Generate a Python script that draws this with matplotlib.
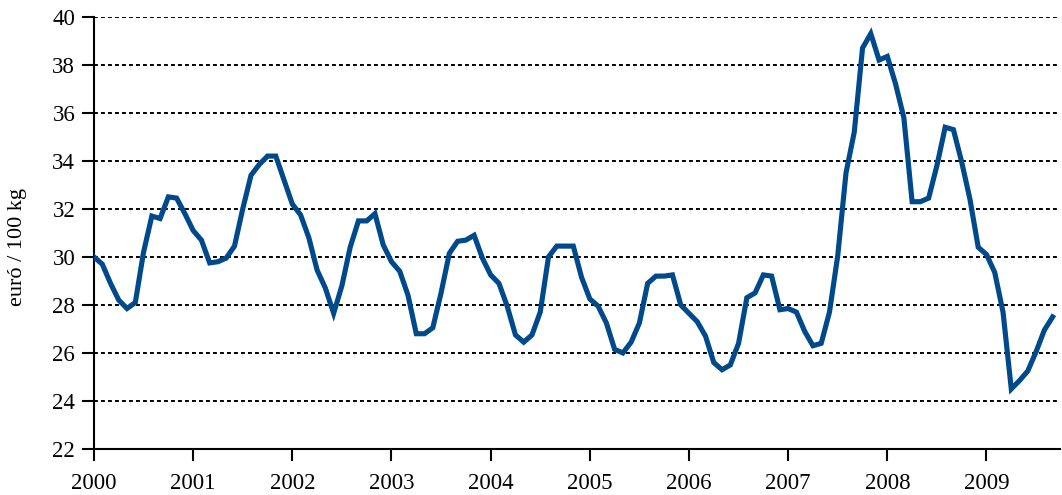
import numpy as np
import matplotlib
matplotlib.use("Agg")
import matplotlib.pyplot as plt

# havi átlagár, 2000 január - 2009 szeptember
ev_kezdet = 2000
arak = [
    # 2000
    30.0, 29.7, 28.9, 28.2, 27.85, 28.1, 30.2, 31.7, 31.6, 32.5, 32.45, 31.8,
    # 2001
    31.1, 30.7, 29.75, 29.8, 29.95, 30.45, 32.0, 33.4, 33.85, 34.2, 34.2, 33.2,
    # 2002
    32.2, 31.75, 30.8, 29.45, 28.7, 27.65, 28.8, 30.4, 31.5, 31.5, 31.8, 30.5,
    # 2003
    29.8, 29.4, 28.4, 26.8, 26.8, 27.05, 28.5, 30.15, 30.65, 30.7, 30.9, 29.95,
    # 2004
    29.25, 28.9, 27.95, 26.75, 26.45, 26.75, 27.7, 30.0, 30.45, 30.45, 30.45, 29.15,
    # 2005
    28.25, 27.95, 27.25, 26.15, 26.0, 26.45, 27.25, 28.9, 29.2, 29.2, 29.25, 28.0,
    # 2006
    27.65, 27.3, 26.7, 25.6, 25.3, 25.5, 26.4, 28.3, 28.5, 29.25, 29.2, 27.8,
    # 2007
    27.85, 27.7, 26.9, 26.3, 26.4, 27.7, 30.05, 33.5, 35.2, 38.7, 39.3, 38.2,
    # 2008
    38.35, 37.2, 35.8, 32.3, 32.3, 32.45, 33.8, 35.4, 35.3, 33.95, 32.4, 30.4,
    # 2009
    30.1, 29.35, 27.7, 24.5, 24.85, 25.25, 26.05, 26.95, 27.5,
]
evek = list(range(2000, 2010))
y_ertekek = list(range(22, 41, 2))

idok = ev_kezdet + np.arange(len(arak)) / 12.0

plt.rcParams['font.family'] = ['Liberation Serif', 'DejaVu Serif']

fig = plt.figure(figsize=(10.62, 4.95), dpi=100)
ax = fig.add_axes([0.0885, 0.093, 0.9095, 0.873])

ax.plot(idok, arak, color='#004a8c', linewidth=3.7, solid_joinstyle='miter', zorder=3)

ax.set_xlim(2000, 2009.74)
ax.set_ylim(22, 40)
ax.set_xticks(evek)
ax.set_yticks(y_ertekek)
ax.set_xticklabels([str(e) for e in evek])

# pontozott vízszintes rácsvonalak
for v in y_ertekek[1:]:
    ax.axhline(v, color='black', linewidth=1.4, linestyle=(0, (2.0, 1.6)), zorder=1)

for s in ['top', 'right']:
    ax.spines[s].set_visible(False)
for s in ['left', 'bottom']:
    ax.spines[s].set_linewidth(1.5)
    ax.spines[s].set_color('black')

ax.tick_params(axis='both', direction='out', length=8.5, width=1.5, labelsize=16.5, colors='black')
ax.tick_params(axis='y', pad=5)
ax.tick_params(axis='x', pad=9)

fig.text(17.5 / 1062, 1 - 247.5 / 495, 'euró / 100 kg', rotation=90,
         ha='center', va='center', fontsize=16)

fig.savefig('out.png', dpi=100)
